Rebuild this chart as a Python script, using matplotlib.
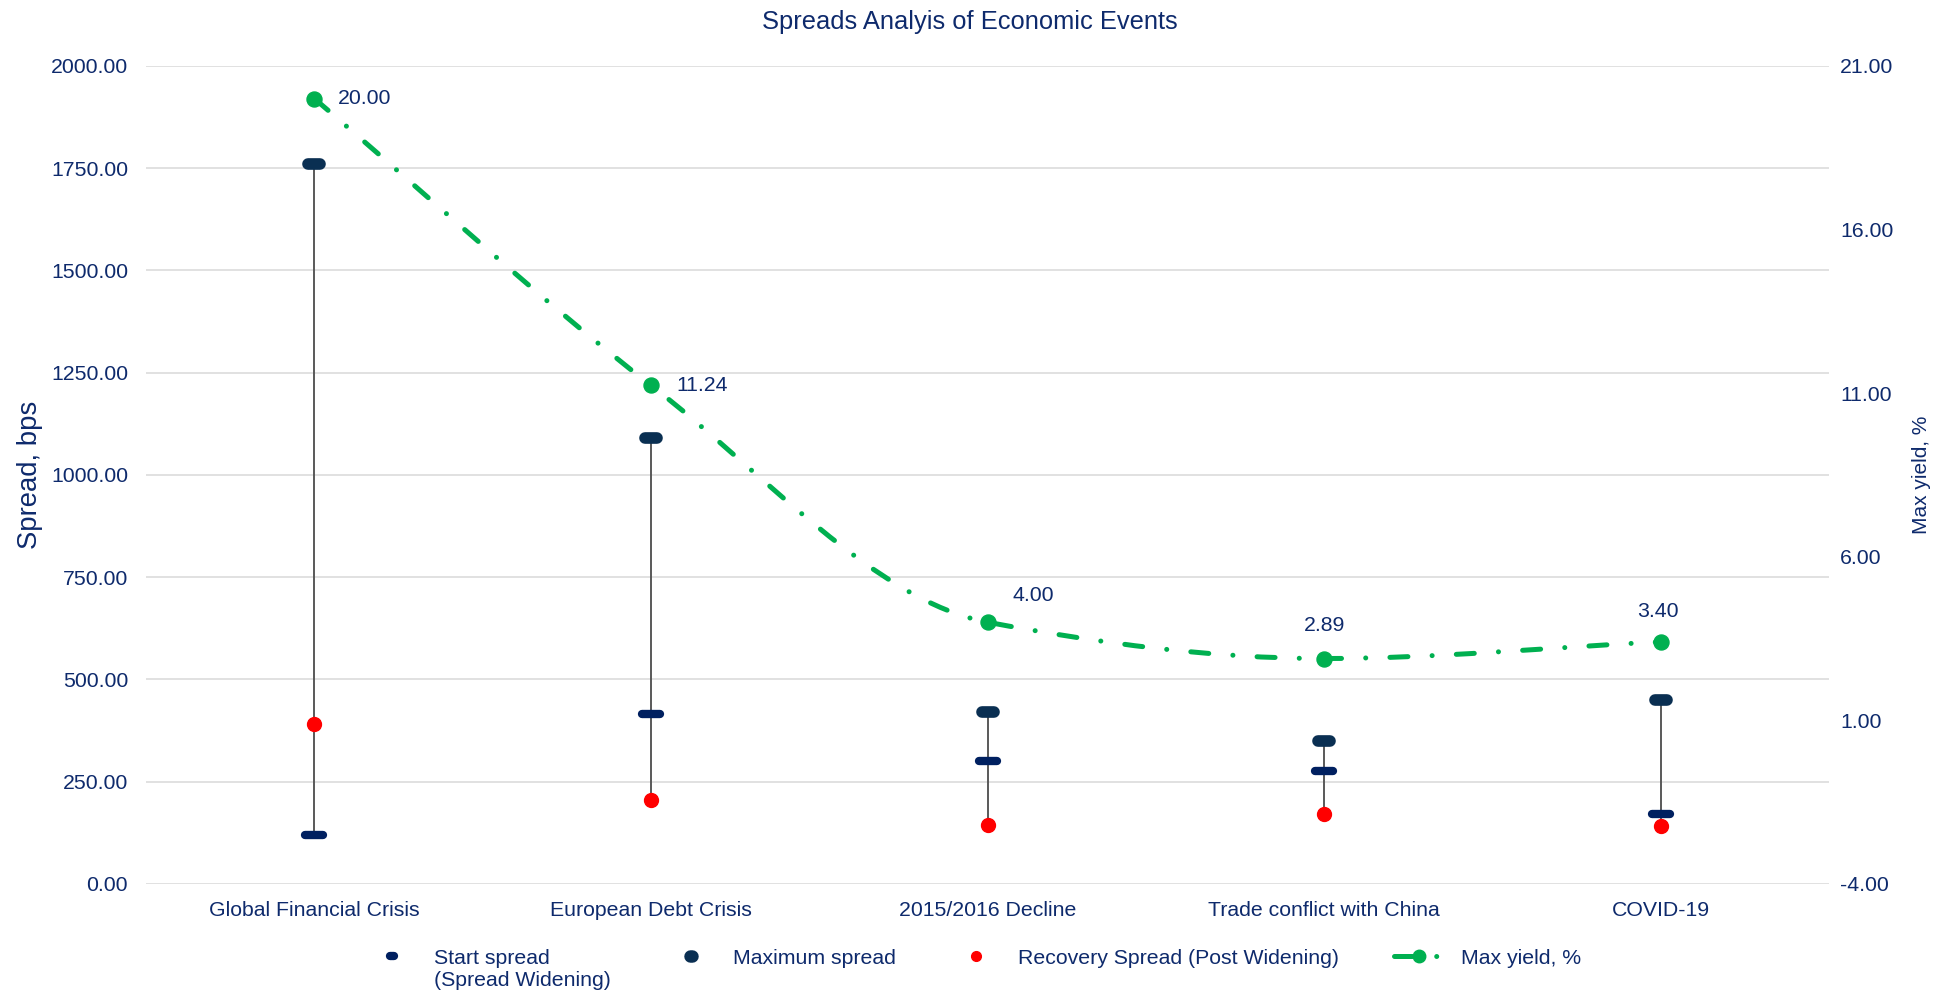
import numpy as np
import matplotlib
matplotlib.use('Agg')
import matplotlib.pyplot as plt
from matplotlib.lines import Line2D
from matplotlib.markers import MarkerStyle
from matplotlib.path import Path
from matplotlib.patches import PathPatch
from matplotlib.ticker import FormatStrFormatter
from matplotlib.legend_handler import HandlerLine2D

plt.rcParams['font.family'] = ['Liberation Sans', 'DejaVu Sans']

# Spread data per event (bps) and max yield (%)
events = ['Global Financial Crisis', 'European Debt Crisis', '2015/2016 Decline',
          'Trade conflict with China', 'COVID-19']
start_spread = [120, 415, 300, 275, 170]
max_spread = [1760, 1090, 420, 350, 450]
recovery_spread = [390, 205, 145, 170, 142]
max_yield = [20.00, 11.24, 4.00, 2.89, 3.40]

text_col = '#0E2A6C'
start_col = '#002060'
max_col = '#0A2F52'
red_col = '#FF0000'
green_col = '#00B050'
FS = 15.3

fig = plt.figure(figsize=(19.4, 9.94), dpi=100)
ax = fig.add_axes([0.0753, 0.1107, 0.8675, 0.823])
ax2 = ax.twinx()

x = np.arange(len(events))

# high-low line across all three spreads
lows = np.minimum(np.minimum(start_spread, max_spread), recovery_spread)
highs = np.maximum(np.maximum(start_spread, max_spread), recovery_spread)
ax.vlines(x, lows, highs, color='#595959', lw=1.4, zorder=2)

bar_marker = MarkerStyle('_', capstyle='round')
ax.plot(x, start_spread, ls='none', marker=bar_marker, ms=13.5, mew=6,
        color=start_col, zorder=3)
ax.plot(x, max_spread, ls='none', marker=bar_marker, ms=8.9, mew=8.4,
        color=max_col, zorder=3)
ax.plot(x, recovery_spread, ls='none', marker='o', ms=10, color=red_col,
        mec=red_col, zorder=4)

ax.set_xlim(-0.5, len(events) - 0.5)
ax.set_ylim(0, 2000)
ax.set_yticks(np.arange(0, 2001, 250))
ax.yaxis.set_major_formatter(FormatStrFormatter('%.2f'))
ax.set_xticks(x)
ax.set_xticklabels(events)
ax.grid(axis='y', color='#D9D9D9', lw=1.1, zorder=0)
ax.set_axisbelow(True)
for sp in list(ax.spines.values()) + list(ax2.spines.values()):
    sp.set_visible(False)
ax.tick_params(axis='y', length=0, pad=13, labelsize=FS, labelcolor=text_col)
ax.tick_params(axis='x', length=0, pad=12, labelsize=FS, labelcolor=text_col)
ax.set_ylabel('Spread, bps', fontsize=19.8, color=text_col)
ax.yaxis.set_label_coords(-0.0612, 0.5)

# smoothed yield line: cubic Bezier segments, flat at turning points
yld = np.array(max_yield, dtype=float)
d = np.diff(yld)
slopes = np.zeros_like(yld)
for i in range(1, len(yld) - 1):
    if d[i - 1] * d[i] > 0:
        slopes[i] = 2.0 / (1.0 / d[i - 1] + 1.0 / d[i])
slopes[0] = d[0]
slopes[-1] = d[-1]
verts = [(x[0], yld[0])]
codes = [Path.MOVETO]
for i in range(len(yld) - 1):
    verts += [(x[i] + 1 / 3, yld[i] + slopes[i] / 3),
              (x[i + 1] - 1 / 3, yld[i + 1] - slopes[i + 1] / 3),
              (x[i + 1], yld[i + 1])]
    codes += [Path.CURVE4] * 3
dash = (0, (3.6, 4.84, 0.01, 4.84))
curve = PathPatch(Path(verts, codes), fill=False, edgecolor=green_col, lw=3.6,
                  linestyle=dash, capstyle='round', joinstyle='round', zorder=3)
ax2.add_patch(curve)
ax2.plot(x, yld, ls='none', marker='o', ms=10.8, color=green_col, zorder=4)

label_offsets = [(17, 0, 'left'), (18, 0, 'left'), (33, 19, 'center'),
                 (0, 24, 'center'), (-2, 22, 'center')]
for xi, v, (dx, dy, ha) in zip(x, max_yield, label_offsets):
    ax2.annotate(f'{v:.2f}', (xi, v), xytext=(dx, dy), textcoords='offset points',
                 ha=ha, va='center', fontsize=FS, color=text_col)

ax2.set_ylim(-4, 21)
ax2.set_yticks(np.arange(-4, 21.1, 5))
ax2.yaxis.set_major_formatter(FormatStrFormatter('%.2f'))
ax2.tick_params(axis='y', length=0, pad=8, labelsize=FS, labelcolor=text_col)
ax2.set_ylabel('Max yield, %', fontsize=15, color=text_col)
ax2.yaxis.set_label_coords(1.0493, 0.5)

fig.text(0.5, 1 - 22 / 994, 'Spreads Analyis of Economic Events', ha='center',
         va='center', fontsize=18.4, color=text_col)


class FirstLineHandler(HandlerLine2D):
    # keep legend keys level with the first line of two-line labels
    def create_artists(self, *args, **kwargs):
        artists = super().create_artists(*args, **kwargs)
        for a in artists:
            a.set_ydata(np.asarray(a.get_ydata(), dtype=float) + 0.6 * FS)
        return artists


handles = [
    Line2D([], [], ls='none', marker=bar_marker, ms=3, mew=6, color=start_col),
    Line2D([], [], ls='none', marker=bar_marker, ms=2, mew=9, color=max_col),
    Line2D([], [], ls='none', marker='o', ms=7, color=red_col),
    Line2D([], [], ls=dash, lw=3.6, dash_capstyle='round', marker='o', ms=9,
           color=green_col),
]
labels = ['Start spread\n(Spread Widening)', 'Maximum spread\n',
          'Recovery Spread (Post Widening)\n', 'Max yield, %\n']
fig.legend(handles, labels, loc='upper center', bbox_to_anchor=(0.502, 1 - 938 / 994),
           ncol=4, frameon=False, fontsize=FS, handlelength=2.35,
           handletextpad=0.8, columnspacing=2.6, labelcolor=text_col,
           borderpad=0, handler_map={Line2D: FirstLineHandler()})

fig.savefig('out.png', dpi=100)
